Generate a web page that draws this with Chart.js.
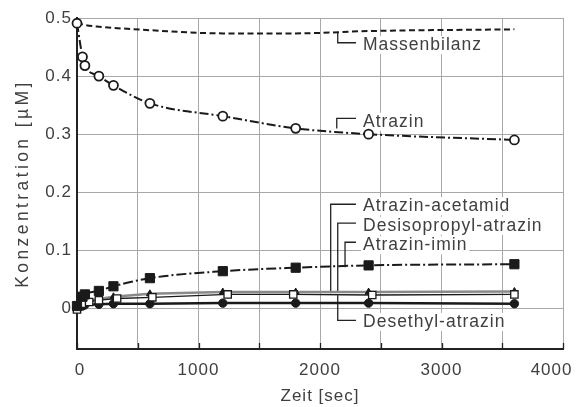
<!DOCTYPE html>
<html><head><meta charset="utf-8">
<script src="https://cdn.jsdelivr.net/npm/chart.js@4"></script>
<style>html,body{margin:0;padding:0;background:#fff;}</style>
</head><body>
<canvas id="c" width="577" height="407"></canvas>
<script>
// ---- data ----
const times = [0, 45, 65, 180, 300, 600, 1200, 1800, 2400, 3600];
const timesDesisopropyl = [0, 40, 100, 180, 330, 620, 1240, 1780, 2430, 3600];
const massenbilanz = [0.491, 0.489, 0.488, 0.485, 0.483, 0.479, 0.4735, 0.4735, 0.4775, 0.4805];
const atrazin = [0.491, 0.433, 0.418, 0.400, 0.384, 0.353, 0.331, 0.310, 0.300, 0.290];
const atrazinAcetamid = [0.004, 0.020, 0.024, 0.030, 0.038, 0.052, 0.064, 0.070, 0.074, 0.076];
const desisopropylAtrazin = [-0.002, 0.008, 0.011, 0.014, 0.017, 0.019, 0.024, 0.024, 0.023, 0.024];
const atrazinImin = [0.000, 0.008, 0.012, 0.016, 0.020, 0.025, 0.028, 0.028, 0.028, 0.029];
const desethylAtrazin = [0.000, 0.004, 0.006, 0.007, 0.008, 0.008, 0.009, 0.009, 0.009, 0.008];
const xTickValues = [0, 500, 1000, 1500, 2000, 2500, 3000, 3500, 4000];
const xTickLabels = [0, 1000, 2000, 3000, 4000];
const yTickValues = [0, 0.1, 0.2, 0.3, 0.4, 0.5];

// annotation leaders (data units)
const annotations = [
  {text: 'Massenbilanz', x: 2146, y1: 0.4747, y2: 0.4574, ty: 0.4534},
  {text: 'Atrazin', x: 2138, y1: 0.3098, y2: 0.3271, ty: 0.3212},
  {text: 'Atrazin-acetamid', x: 2088, y1: 0.0259, y2: 0.1793, ty: 0.1759},
  {text: 'Desisopropyl-atrazin', x: 2146, y1: 0.0281, y2: 0.1466, ty: 0.1422},
  {text: 'Atrazin-imin', x: 2206, y1: 0.0707, y2: 0.1138, ty: 0.1086},
  {text: 'Desethyl-atrazin', x: 2146, y1: 0.0224, y2: -0.0207, ty: -0.0233}
];
const leaderEnd = 2296, textStart = 2354;

const FONT = "'Liberation Sans', Arial, sans-serif";
const TXT = '#404040';
const pts = (xs, ys) => ys.map((y, i) => ({x: xs[i], y}));

const annotationPlugin = {
  id: 'annot',
  beforeDatasetsDraw(chart) {
    const {ctx, scales: {x, y}} = chart;
    ctx.save();
    ctx.font = '17.5px ' + FONT;
    ctx.letterSpacing = '1px';
    ctx.textBaseline = 'middle';
    ctx.textAlign = 'left';
    annotations.forEach(a => {
      const tx = x.getPixelForValue(textStart), ty = y.getPixelForValue(a.ty);
      const w = ctx.measureText(a.text).width;
      ctx.fillStyle = '#fff';
      ctx.fillRect(tx - 2, ty - 9, w + 4, 18);
    });
    ctx.strokeStyle = '#222';
    ctx.lineWidth = 1.3;
    annotations.forEach(a => {
      ctx.beginPath();
      ctx.moveTo(x.getPixelForValue(a.x), y.getPixelForValue(a.y1));
      ctx.lineTo(x.getPixelForValue(a.x), y.getPixelForValue(a.y2));
      ctx.lineTo(x.getPixelForValue(leaderEnd), y.getPixelForValue(a.y2));
      ctx.stroke();
    });
    ctx.fillStyle = TXT;
    annotations.forEach(a => {
      ctx.fillText(a.text, x.getPixelForValue(textStart), y.getPixelForValue(a.ty));
    });
    ctx.restore();
  },
  afterDraw(chart) {
    const {ctx, scales: {x}, chartArea} = chart;
    ctx.save();
    ctx.strokeStyle = '#222';
    ctx.lineWidth = 1.3;
    xTickValues.forEach(v => {
      const px = Math.round(x.getPixelForValue(v)) + 0.5;
      ctx.beginPath();
      ctx.moveTo(px, chartArea.bottom);
      ctx.lineTo(px, chartArea.bottom - 6);
      ctx.stroke();
    });
    ctx.restore();
  }
};

const spacingPlugin = {
  id: 'spacing',
  beforeDraw(chart) { chart.ctx.letterSpacing = '1px'; },
  afterLayout(chart) {
    const ys = chart.scales.y;
    if (ys && !ys._patched) {
      const orig = ys.drawTitle.bind(ys);
      ys.drawTitle = function () {
        const c = this.ctx, prev = c.letterSpacing;
        c.letterSpacing = '3.4px';
        orig();
        c.letterSpacing = prev;
      };
      ys._patched = true;
    }
  }
};

// first / last x labels sit slightly inward in the reference
const xLabel = v => {
  if (!xTickLabels.includes(v)) return '';
  if (v === xTickLabels[0]) return ' ' + v;
  if (v === xTickLabels[xTickLabels.length - 1]) return v + '    ';
  return String(v);
};

new Chart(document.getElementById('c'), {
  type: 'scatter',
  data: {
    datasets: [
      {label: 'Atrazin', data: pts(times, atrazin), showLine: true, clip: false,
       borderColor: '#1a1a1a', borderWidth: 2, borderDash: [9, 3, 2, 3], cubicInterpolationMode: 'monotone',
       pointStyle: 'circle', pointRadius: 4.5, pointBackgroundColor: '#fff', pointBorderColor: '#1a1a1a', pointBorderWidth: 1.8},
      {label: 'Massenbilanz', data: pts(times, massenbilanz), showLine: true, clip: false,
       borderColor: '#1a1a1a', borderWidth: 2, borderDash: [6, 3.5], cubicInterpolationMode: 'monotone', pointRadius: 0},
      {label: 'Atrazin-acetamid', data: pts(times, atrazinAcetamid), showLine: true, clip: false,
       borderColor: '#1a1a1a', borderWidth: 2, borderDash: [10, 3, 2, 3], cubicInterpolationMode: 'monotone',
       pointStyle: 'rect', pointRadius: 6.5, pointBackgroundColor: '#1a1a1a', pointBorderColor: '#1a1a1a', pointBorderWidth: 1},
      {label: 'Desisopropyl-atrazin', data: pts(timesDesisopropyl, desisopropylAtrazin), showLine: true, clip: false,
       borderColor: '#1a1a1a', borderWidth: 1.3,
       pointStyle: 'rect', pointRadius: 5.2, pointBackgroundColor: '#fff', pointBorderColor: '#1a1a1a', pointBorderWidth: 1.3},
      {label: 'Atrazin-imin', data: pts(times, atrazinImin), showLine: true, clip: false,
       borderColor: '#8a8a8a', borderWidth: 2.5,
       pointStyle: 'triangle', pointRadius: 4, pointBackgroundColor: '#1a1a1a', pointBorderColor: '#1a1a1a', pointBorderWidth: 1},
      {label: 'Desethyl-atrazin', data: pts(times, desethylAtrazin), showLine: true, clip: false,
       borderColor: '#1a1a1a', borderWidth: 2.5,
       pointStyle: 'circle', pointRadius: 4.2, pointBackgroundColor: '#1a1a1a', pointBorderColor: '#1a1a1a', pointBorderWidth: 1}
    ]
  },
  options: {
    responsive: false, animation: false, devicePixelRatio: 1,
    layout: {padding: {top: 18, right: 14, left: 0, bottom: 0}},
    plugins: {legend: {display: false}, tooltip: {enabled: false}},
    scales: {
      x: {
        type: 'linear', min: 0, max: 4000,
        afterBuildTicks: s => { s.ticks = xTickValues.map(v => ({value: v})); },
        afterFit: s => { s.height = 58; s.paddingLeft = 0; s.paddingRight = 0; },
        ticks: {callback: xLabel, autoSkip: false, maxRotation: 0,
                padding: 11, color: TXT, font: {family: FONT, size: 17}},
        grid: {color: '#a8a8a8', lineWidth: 1, drawTicks: false},
        border: {color: '#222', width: 2},
        title: {display: true, text: 'Zeit [sec]', color: TXT, font: {family: FONT, size: 17}, padding: {top: 0, bottom: 0}}
      },
      y: {
        type: 'linear', min: -0.07, max: 0.5,
        afterBuildTicks: s => { s.ticks = yTickValues.map(v => ({value: v})); },
        afterFit: s => { s.width = 77; s.paddingTop = 0; s.paddingBottom = 0; },
        ticks: {callback: v => String(Math.round(v * 10) / 10), padding: 5, color: TXT, font: {family: FONT, size: 17}},
        grid: {color: '#a8a8a8', lineWidth: 1, drawTicks: false},
        border: {color: '#222', width: 2},
        title: {display: true, text: 'Konzentration [µM]', color: TXT, font: {family: FONT, size: 17.5}, padding: {top: 13, bottom: 0}}
      }
    }
  },
  plugins: [annotationPlugin, spacingPlugin]
});
</script>
</body></html>
